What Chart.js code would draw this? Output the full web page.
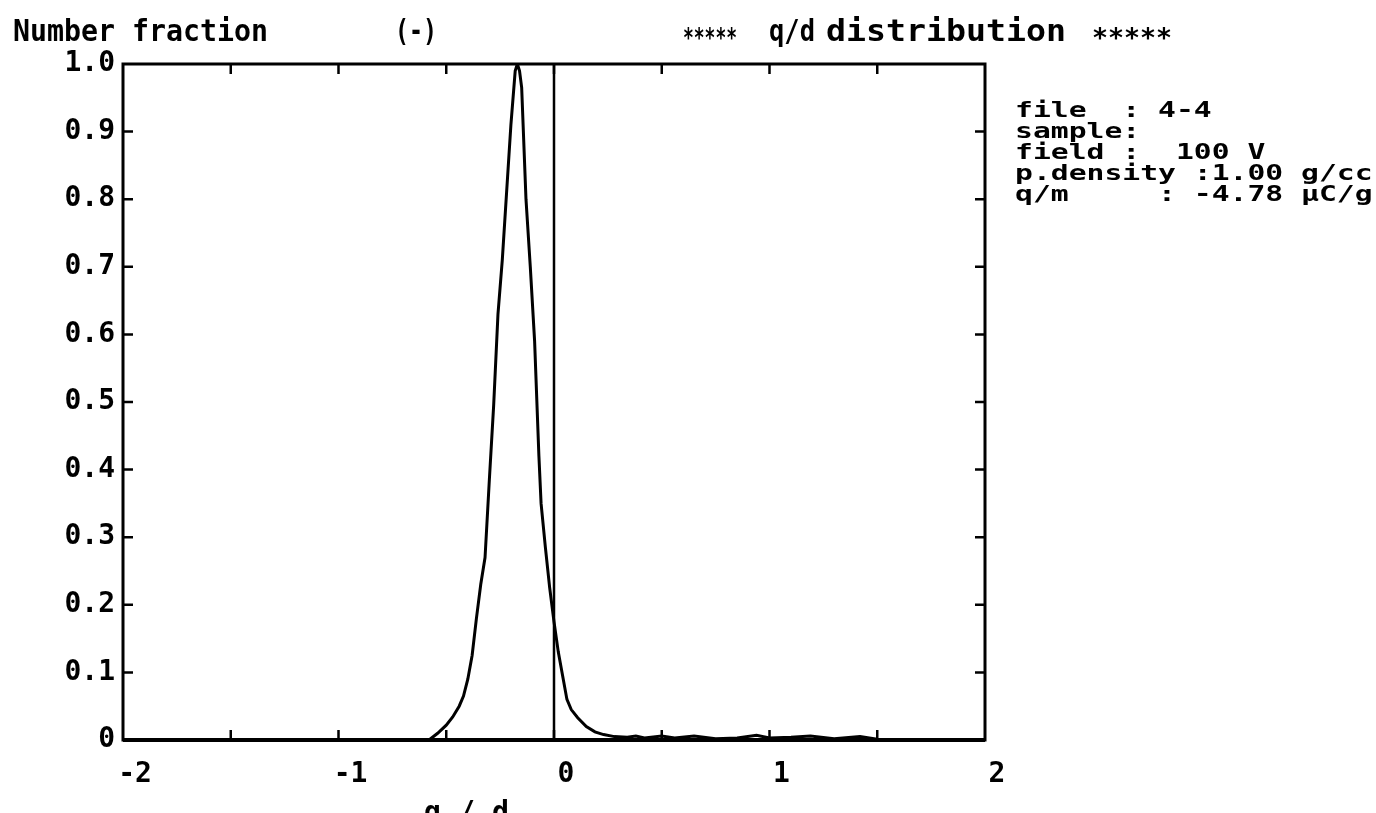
<!DOCTYPE html>
<html>
<head>
<meta charset="utf-8">
<script src="https://cdn.jsdelivr.net/npm/chart.js@4.4.0/dist/chart.umd.min.js"></script>
<style>
    html, body { margin: 0; padding: 0; background: #fff; overflow: hidden; }
    #wrap { width: 1376px; height: 813px; }
</style>
</head>
<body>
<div id="wrap"><canvas id="chartQd" width="1376" height="813"></canvas></div>
<script>
// q/d values and number fraction
const curveX = [-2.00, -1.60, -0.62, -0.58, -0.54, -0.50, -0.47, -0.44, -0.42, -0.40, -0.38, -0.36, -0.34,
    -0.32, -0.30, -0.28, -0.26, -0.24, -0.22, -0.20, -0.18, -0.17, -0.16, -0.15, -0.13, -0.11,
    -0.09, -0.07, -0.06, -0.04, -0.02, 0.00, 0.02, 0.04, 0.06, 0.08, 0.11, 0.15, 0.19, 0.23,
    0.28, 0.34, 0.38, 0.42, 0.50, 0.56, 0.65, 0.75, 0.85, 0.94, 1.00, 1.10, 1.19, 1.30, 1.42,
    1.50, 1.60];
const curveY = [0, 0, 0, 0, 0.010, 0.022, 0.034, 0.050, 0.065, 0.090, 0.125, 0.180, 0.230,
    0.270, 0.385, 0.495, 0.630, 0.710, 0.810, 0.910, 0.990, 1.000, 0.990, 0.965, 0.800, 0.700,
    0.590, 0.420, 0.350, 0.285, 0.225, 0.175, 0.130, 0.095, 0.060, 0.045, 0.033, 0.020, 0.012, 0.008,
    0.005, 0.004, 0.006, 0.003, 0.006, 0.003, 0.006, 0.002, 0.003, 0.007, 0.003, 0.004, 0.006, 0.002, 0.005,
    0.001, 0];

// vertical reference line at q/d = 0
const zeroLineX = [0, 0];
const zeroLineY = [0, 1];

const xTickValues = [-2, -1, 0, 1, 2];
const xMinorTicks = [-1.5, -1, -0.5, 0, 0.5, 1, 1.5];
const yMinorTicks = [0.1, 0.2, 0.3, 0.4, 0.5, 0.6, 0.7, 0.8, 0.9];

const yAxisTitle = 'Number fraction';
const unitLabel = '(-)';
const chartTitle = ['*****', 'q/d', 'distribution', '*****'];
const xAxisTitle = 'q / d';
const infoLines = [
    'file  : 4-4',
    'sample:',
    'field :  100 V',
    'p.density :1.00 g/cc',
    'q/m     : -4.78 \u00b5C/g'
];

const MONO = '"DejaVu Sans Mono", "Liberation Mono", monospace';

function fitText(ctx, text, x, y, w, size) {
    ctx.font = `bold ${size}px ${MONO}`;
    const m = ctx.measureText(text).width;
    ctx.save();
    ctx.translate(x, y);
    ctx.scale(w / m, 1);
    ctx.fillText(text, 0, 0);
    ctx.restore();
}

function scaledText(ctx, text, x, y, size, sx) {
    ctx.font = `bold ${size}px ${MONO}`;
    ctx.save();
    ctx.translate(x, y);
    ctx.scale(sx, 1);
    ctx.fillText(text, 0, 0);
    ctx.restore();
}

// frame, inward ticks and the loose texts
const framePlugin = {
    id: 'frame',
    afterDraw(chart) {
        const { ctx, chartArea: a, scales: { x, y } } = chart;
        ctx.save();
        ctx.strokeStyle = '#000';
        ctx.lineWidth = 3;
        ctx.strokeRect(a.left, a.top, a.right - a.left, a.bottom - a.top);
        ctx.lineWidth = 4;
        ctx.beginPath();
        ctx.moveTo(a.left, a.bottom);
        ctx.lineTo(a.right, a.bottom);
        ctx.stroke();

        ctx.lineWidth = 2.5;
        ctx.beginPath();
        xMinorTicks.forEach(v => {
            const px = x.getPixelForValue(v);
            ctx.moveTo(px, a.bottom); ctx.lineTo(px, a.bottom - 10);
            ctx.moveTo(px, a.top); ctx.lineTo(px, a.top + 10);
        });
        yMinorTicks.forEach(v => {
            const py = y.getPixelForValue(v);
            ctx.moveTo(a.left, py); ctx.lineTo(a.left + 10, py);
            ctx.moveTo(a.right, py); ctx.lineTo(a.right - 10, py);
        });
        ctx.stroke();

        ctx.fillStyle = '#000';
        ctx.textBaseline = 'alphabetic';
        ctx.textAlign = 'left';
        fitText(ctx, yAxisTitle, 13, 41, 255, 30);
        fitText(ctx, unitLabel, 395, 41, 42, 30);
        fitText(ctx, chartTitle[0], 683, 47, 54, 26);
        fitText(ctx, chartTitle[1], 769, 41, 46, 30);
        fitText(ctx, chartTitle[2], 826, 41, 240, 30);
        fitText(ctx, chartTitle[3], 1092, 47, 80, 26);

        infoLines.forEach((t, i) => scaledText(ctx, t, 1015, 117 + i * 21, 22, 1.35));

        fitText(ctx, xAxisTitle, 424, 822, 85, 30);
        ctx.restore();
    }
};

const ctx = document.getElementById('chartQd').getContext('2d');
new Chart(ctx, {
    type: 'line',
    data: {
        datasets: [
            {
                data: curveX.map((v, i) => ({ x: v, y: curveY[i] })),
                borderColor: '#000',
                borderWidth: 3,
                pointRadius: 0,
                tension: 0,
                fill: false
            },
            {
                data: zeroLineX.map((v, i) => ({ x: v, y: zeroLineY[i] })),
                borderColor: '#000',
                borderWidth: 2.5,
                pointRadius: 0,
                fill: false
            }
        ]
    },
    options: {
        responsive: false,
        animation: false,
        events: [],
        layout: { padding: { left: 0, top: 64, right: 391, bottom: 0 } },
        plugins: { legend: { display: false }, tooltip: { enabled: false } },
        scales: {
            x: {
                type: 'linear',
                min: -2,
                max: 2,
                border: { display: false },
                grid: { display: false, drawTicks: false },
                afterBuildTicks: s => { s.ticks = xTickValues.map(v => ({ value: v })); },
                afterFit: s => { s.height = 73; },
                ticks: {
                    color: '#000',
                    padding: 18,
                    labelOffset: 12,
                    maxRotation: 0,
                    font: { family: MONO, size: 28, weight: 'bold' },
                    callback: v => String(v)
                }
            },
            y: {
                min: 0,
                max: 1,
                border: { display: false },
                grid: { display: false, drawTicks: false },
                afterFit: s => { s.width = 123; },
                ticks: {
                    stepSize: 0.1,
                    color: '#000',
                    padding: 8,
                    font: { family: MONO, size: 28, weight: 'bold' },
                    callback: v => (v === 0 ? '0' : v.toFixed(1))
                }
            }
        }
    },
    plugins: [framePlugin]
});
</script>
</body>
</html>
